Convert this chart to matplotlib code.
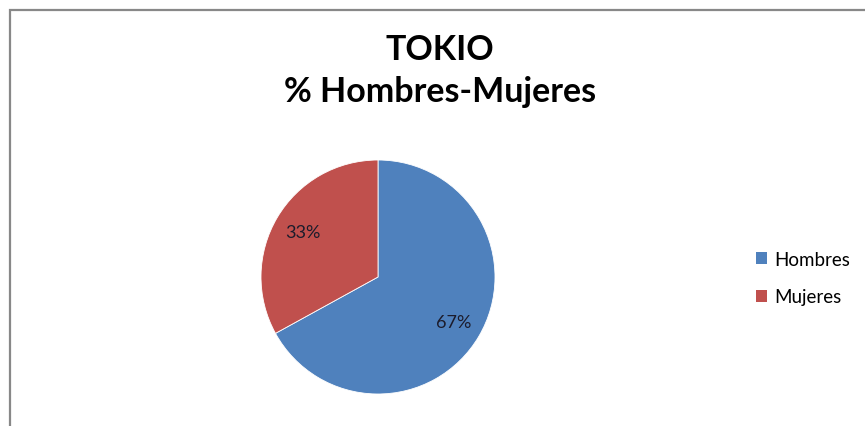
import matplotlib
matplotlib.use('Agg')
import matplotlib.pyplot as plt
from matplotlib.patches import Patch, Rectangle

plt.rcParams['font.family'] = ['Lato', 'DejaVu Sans']

# data
labels = ['Hombres', 'Mujeres']
values = [67, 33]
colors = ['#4F81BD', '#C0504D']
title = 'TOKIO\n% Hombres-Mujeres'

W, H = 865, 427
fig = plt.figure(figsize=(W / 100, H / 100), dpi=100)

# chart frame (only top/left visible in the crop)
fig.patches.append(Rectangle((10 / W, -0.1), 1.2, 1 - 11 / H + 0.1,
                             transform=fig.transFigure, fill=False,
                             edgecolor='#888888', lw=1.6))

fig.text(440 / W, 1 - 71 / H, title, ha='center', va='center',
         fontsize=24.5, fontweight='bold', linespacing=1.4)

ax = fig.add_axes([261 / W, 32 / H, 234 / W, 234 / H])
wedges, _, autotexts = ax.pie(values, colors=colors, startangle=90, counterclock=False,
                              autopct='%d%%', pctdistance=0.75,
                              wedgeprops=dict(edgecolor='white', linewidth=0.6),
                              textprops=dict(fontsize=13, color='#1c1c2c'))
ax.set_xlim(-1, 1)
ax.set_ylim(-1, 1)
ax.set_aspect('equal')
ax.axis('off')

handles = [Patch(facecolor=c, edgecolor='none') for c in colors]
fig.legend(handles, labels, loc='center left', bbox_to_anchor=(739 / W, 1 - 279 / H),
           frameon=False, fontsize=13.5, handlelength=0.6, handleheight=0.6,
           handletextpad=0.4, labelspacing=1.1)

fig.savefig('out.png', dpi=100)
